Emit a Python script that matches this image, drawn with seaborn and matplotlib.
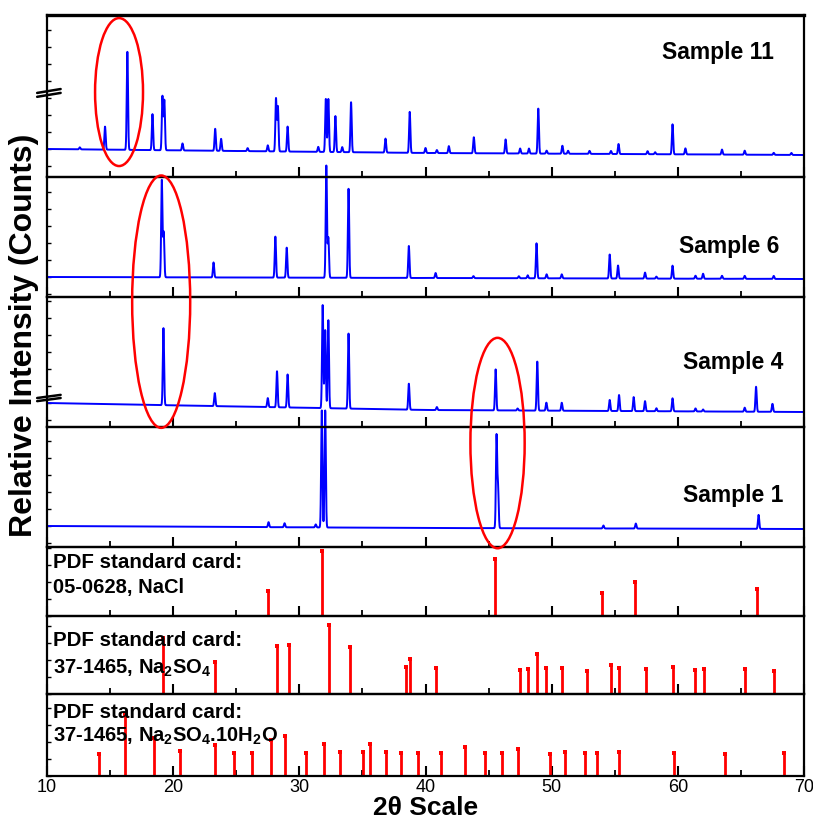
import matplotlib
matplotlib.use("Agg")
import matplotlib.pyplot as plt
import matplotlib.transforms as mtransforms
from matplotlib.patches import Ellipse
from matplotlib.ticker import MultipleLocator
import numpy as np
import pandas as pd
import seaborn as sns

sns.set_theme(style="ticks")
plt.rcParams['font.family'] = ['Liberation Sans', 'DejaVu Sans']
plt.rcParams['mathtext.fontset'] = 'custom'
plt.rcParams['mathtext.rm'] = 'Liberation Sans:bold'
plt.rcParams['mathtext.bf'] = 'Liberation Sans:bold'
plt.rcParams['mathtext.default'] = 'bf'
for key in ['text.color', 'axes.labelcolor', 'xtick.color', 'ytick.color', 'axes.edgecolor']:
    plt.rcParams[key] = 'black'

# --- measured patterns: peak positions (2theta) and heights above background ---
s11_pos = [12.6, 14.6, 16.37, 18.36, 19.15, 19.3, 20.74, 23.33, 23.8, 25.9, 27.5, 28.15, 28.3, 29.07,
           31.5, 32.1, 32.3, 32.86, 33.4, 34.1, 36.83, 38.75, 40.0, 40.9, 41.85, 43.83, 46.35, 47.5,
           48.2, 48.94, 49.6, 50.85, 51.3, 53.0, 54.7, 55.3, 57.6, 58.2, 59.58, 60.6, 63.5, 65.3,
           67.6, 69.0]
s11_int = [2, 23, 98, 36, 54, 50, 7, 22, 12, 3, 6, 53, 45, 25,
           5, 53, 53, 36, 5, 50, 14, 41, 5, 3, 7, 16, 14, 5,
           5, 45, 3, 8, 3, 3, 3, 10, 3, 2, 30, 6, 5, 4,
           2, 2]
s11_bg = [0, -4, -6]

s6_pos = [19.1, 19.25, 23.2, 28.1, 29.0, 32.14, 32.3, 33.9, 38.68, 40.8, 43.8, 47.4, 48.1, 48.8,
          49.6, 50.8, 54.6, 55.26, 57.4, 58.3, 59.58, 61.4, 62.0, 63.5, 65.3, 67.6]
s6_int = [97, 45, 15, 41, 30, 112, 40, 89, 32, 5, 2, 2, 3, 35,
          4, 4, 24, 13, 6, 2, 13, 3, 5, 3, 3, 3]
s6_bg = [0, -1, -2]

s4_pos = [19.23, 23.3, 27.5, 28.23, 29.07, 31.85, 32.05, 32.3, 33.9, 38.68, 40.9, 45.56, 47.3,
          48.86, 49.58, 50.8, 54.6, 55.34, 56.5, 57.4, 58.3, 59.58, 61.4, 62.0, 65.3, 66.2, 67.5]
s4_int = [77, 13, 9, 36, 33, 103, 78, 88, 75, 26, 3, 41, 2,
          49, 8, 8, 11, 16, 14, 10, 3, 13, 3, 2, 4, 25, 8]
s4_bg = [0, -7, -9]

s1_pos = [27.56, 28.83, 31.3, 31.78, 32.05, 45.63, 45.75, 54.1, 56.67, 66.4]
s1_int = [5, 4, 3, 117, 117, 92, 40, 3, 5, 14]
s1_bg = [0, -2, -3]

bg_x = [10, 40, 70]

# --- PDF reference cards (stick patterns) ---
nacl_pos = [27.48, 31.8, 45.5, 53.97, 56.6, 66.3]
nacl_int = [25, 65, 57, 23, 34, 27]

na2so4_pos = [19.23, 23.33, 28.23, 29.15, 32.33, 33.99, 38.49, 38.75, 40.87, 47.46, 48.15, 48.86,
              49.58, 50.85, 52.78, 54.68, 55.34, 57.5, 59.63, 61.35, 62.04, 65.34, 67.64]
na2so4_int = [56, 32, 48, 49, 69, 47, 27, 35, 26, 24, 25, 40,
              26, 26, 23, 29, 26, 25, 27, 24, 25, 25, 23]

hyd_pos = [14.13, 16.19, 18.52, 20.56, 23.33, 24.79, 26.24, 27.75, 28.83, 30.53, 31.98, 33.25,
           35.05, 35.63, 36.88, 38.02, 39.37, 41.25, 43.1, 44.68, 46.09, 47.36, 49.87, 51.03,
           52.62, 53.57, 55.34, 59.66, 63.73, 68.44]
hyd_int = [22, 61, 38, 25, 31, 23, 23, 36, 40, 23, 32, 24,
           24, 32, 24, 23, 23, 23, 29, 23, 23, 27, 22, 24,
           23, 23, 24, 23, 22, 23]

sample_names = ['Sample 11', 'Sample 6', 'Sample 4', 'Sample 1']
card_lines = [('PDF standard card:', '05-0628, NaCl'),
              ('PDF standard card:', '37-1465, Na$_2$SO$_4$'),
              ('PDF standard card:', '37-1465, Na$_2$SO$_4$.10H$_2$O')]

W, H = 813, 822
fig = plt.figure(figsize=(W / 100, H / 100), dpi=100)

# panel edges in pixels (top, bottom)
edges = [(15, 177), (177, 297), (297, 427), (427, 547), (547, 616), (616, 694), (694, 776)]
xl, xr = 47, 804
axes = []
for t, b in edges:
    ax = fig.add_axes([xl / W, 1 - b / H, (xr - xl) / W, (b - t) / H])
    axes.append(ax)


def pattern(pos, inten, bg, sig=0.05):
    x = np.arange(10, 70.001, 0.01)
    y = np.interp(x, bg_x, bg)
    for c, h in zip(pos, inten):
        y = y + h * np.exp(-0.5 * ((x - c) / sig) ** 2)
    return pd.DataFrame({'two_theta': x, 'intensity': y})


spectra = [(s11_pos, s11_int, s11_bg, (-28, 134)),
           (s6_pos, s6_int, s6_bg, (-20, 100)),
           (s4_pos, s4_int, s4_bg, (-24, 106)),
           (s1_pos, s1_int, s1_bg, (-21, 99))]
label_y = [0.77, 0.42, 0.50, 0.43]
label_x = [63.2, 64.1, 64.4, 64.4]

for i, (pos, inten, bg, ylim) in enumerate(spectra):
    ax = axes[i]
    df = pattern(pos, inten, bg)
    sns.lineplot(data=df, x='two_theta', y='intensity', ax=ax, color='#0000ff',
                 lw=1.4, estimator=None, sort=False)
    for ln in ax.lines:
        ln.set_clip_on(False)
    ax.set_ylim(*ylim)
    ax.text(label_x[i], label_y[i], sample_names[i], transform=mtransforms.blended_transform_factory(
        ax.transData, ax.transAxes), ha='center', va='center', fontsize=16.5, fontweight='bold')

cards = [(nacl_pos, nacl_int, 69), (na2so4_pos, na2so4_int, 78), (hyd_pos, hyd_int, 82)]
card_y = [(0.78, 0.41), (0.69, 0.33), (0.77, 0.48)]
for j, (pos, inten, top) in enumerate(cards):
    ax = axes[4 + j]
    ax.vlines(pos, 0, inten, colors='#ff0000', lw=2)
    sns.scatterplot(x=pos, y=inten, ax=ax, color='#ff0000', marker='s', s=10, linewidth=0)
    ax.set_ylim(0, top)
    ax.text(0.008, card_y[j][0], card_lines[j][0], transform=ax.transAxes,
            ha='left', va='center', fontsize=14.8, fontweight='bold')
    ax.text(0.008, card_y[j][1], card_lines[j][1], transform=ax.transAxes,
            ha='left', va='center', fontsize=14.5, fontweight='bold')

for k, ax in enumerate(axes):
    ax.set_xlim(10, 70)
    ax.xaxis.set_major_locator(MultipleLocator(10))
    ax.xaxis.set_minor_locator(MultipleLocator(5))
    ax.tick_params(axis='x', which='major', direction='in', length=7, width=1.5,
                   labelbottom=(k == len(axes) - 1), labelsize=13, pad=2)
    ax.tick_params(axis='x', which='minor', direction='in', length=4, width=1.3)
    ax.tick_params(axis='y', which='both', direction='in', length=3, width=1, labelleft=False)
    ax.yaxis.set_major_locator(MultipleLocator(17))
    ax.set_xlabel('')
    ax.set_ylabel('')
    for sp in ax.spines.values():
        sp.set_visible(True)
        sp.set_linewidth(1.6)
        sp.set_color('black')
    ax.set_facecolor('none')

axes[0].spines['top'].set_linewidth(2.4)
axes[-1].set_xlabel('2θ Scale', fontsize=19, fontweight='bold', labelpad=0)

fig.text(0.030, 0.592, 'Relative Intensity (Counts)', rotation=90, ha='center', va='center',
         fontsize=23, fontweight='bold')

# axis break marks on the left spine
for ax, yb in [(axes[0], 0.519), (axes[2], 0.223)]:
    for dy in (-0.012, 0.012):
        ax.plot([-0.013, 0.018], [yb + dy - 0.012, yb + dy + 0.012], transform=ax.transAxes,
                color='black', lw=1.8, clip_on=False)

# red ellipses highlighting peaks (centre 2theta, width deg, centre y frac, height frac)
ell_x = [15.71, 19.05, 45.71]
ell_w = [3.8, 4.6, 4.3]
ell_y = [0.888, 0.633, 0.461]
ell_h = [0.180, 0.307, 0.256]
tr = mtransforms.blended_transform_factory(axes[0].transData, fig.transFigure)
for cx, w, cy, h in zip(ell_x, ell_w, ell_y, ell_h):
    fig.add_artist(Ellipse((cx, cy), w, h, transform=tr, fill=False, edgecolor='#ff0000', lw=1.8))

fig.savefig('out.png', dpi=100)
